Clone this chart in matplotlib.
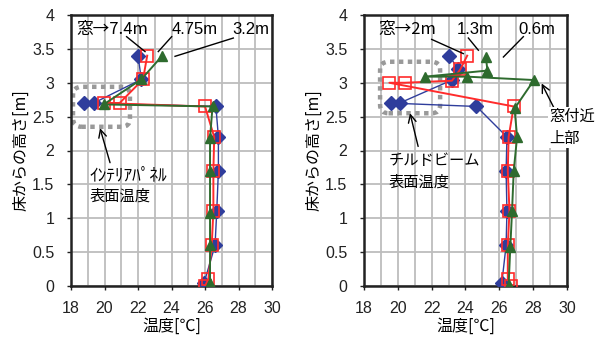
import matplotlib
matplotlib.use("Agg")
import matplotlib.pyplot as plt
from matplotlib.patches import FancyBboxPatch
import numpy as np

plt.rcParams['font.family'] = ['Liberation Sans', 'Noto Sans CJK JP', 'DejaVu Sans']
JP = ['Noto Sans CJK JP', 'DejaVu Sans']
MIX = ['Liberation Sans', 'Noto Sans CJK JP', 'DejaVu Sans']

# ---------------- data (left panel: interior panel) ----------------
L_blue_T = [22.0, 22.2, 19.35, 18.75, 26.65, 26.8, 26.8, 26.7, 26.6, 25.95]
L_blue_h = [3.4, 3.05, 2.7, 2.7, 2.65, 2.2, 1.7, 1.1, 0.6, 0.05]
L_red_T = [22.55, 22.3, 20.9, 19.95, 26.0, 26.55, 26.5, 26.5, 26.4, 26.2, 26.0]
L_red_h = [3.4, 3.05, 2.7, 2.7, 2.65, 2.2, 1.7, 1.1, 0.6, 0.1, 0.0]
L_green_T = [23.45, 22.2, 19.95, 26.45, 26.3, 26.3, 26.3, 26.3, 26.3]
L_green_h = [3.4, 3.05, 2.68, 2.65, 2.18, 1.7, 1.08, 0.6, 0.05]

# ---------------- data (right panel: chilled beam) ----------------
R_blue_T = [23.05, 23.55, 23.2, 20.1, 19.6, 24.65, 26.45, 26.4, 26.45, 26.4, 26.15]
R_blue_h = [3.4, 3.2, 3.04, 2.7, 2.7, 2.65, 2.2, 1.7, 1.1, 0.6, 0.05]
R_red_T = [24.1, 23.7, 23.2, 20.4, 19.5, 26.85, 26.55, 26.5, 26.6, 26.5, 26.5, 26.7]
R_red_h = [3.4, 3.2, 3.03, 3.0, 3.0, 2.65, 2.2, 1.7, 1.1, 0.6, 0.1, 0.0]
R_green_T = [25.2, 25.3, 21.6, 24.1, 28.05, 26.9, 27.05, 26.85, 26.75, 26.65, 26.55]
R_green_h = [3.38, 3.18, 3.09, 3.09, 3.04, 2.62, 2.2, 1.7, 1.1, 0.58, 0.02]

x_ticks = [18, 20, 22, 24, 26, 28, 30]
y_ticks = [0, 0.5, 1, 1.5, 2, 2.5, 3, 3.5, 4]
x_label = "温度[℃]"
y_label = "床からの高さ[m]"

BLUE = '#2f3d9c'
RED = '#ff2b2b'
GREEN = '#2e6b2e'

fig = plt.figure(figsize=(5.95, 3.38), dpi=100)
axL = fig.add_axes([71/595, 52/338, 201/595, 271/338])
axR = fig.add_axes([364/595, 52/338, 203/595, 271/338])


def style(ax):
    ax.set_xlim(18, 30)
    ax.set_ylim(0, 4)
    ax.set_xticks(x_ticks)
    ax.set_xticks(np.arange(18, 31, 1), minor=True)
    ax.set_yticks(y_ticks)
    ax.set_yticklabels(['0', '0.5', '1', '1.5', '2', '2.5', '3', '3.5', '4'])
    ax.grid(True, which='both', color='#bdbdbd', lw=1.3, zorder=0)
    ax.set_axisbelow(True)
    ax.tick_params(axis='both', which='major', labelsize=11.5, length=3, width=1,
                   direction='out', colors='#222222')
    ax.tick_params(axis='y', pad=9)
    ax.tick_params(axis='x', pad=8)
    ax.tick_params(axis='both', which='minor', length=0)
    for s in ax.spines.values():
        s.set_linewidth(1.8)
        s.set_color('#222222')
    ax.set_xlabel(x_label, fontsize=11.5, family=JP, labelpad=1)
    ax.set_ylabel(y_label, fontsize=11.5, family=JP, labelpad=2)


def series(ax, bT, bh, rT, rh, gT, gh):
    ax.plot(bT, bh, color=BLUE, lw=1.0, marker='D', ms=7.5, mfc=BLUE, mec=BLUE, zorder=3)
    ax.plot(rT, rh, color=RED, lw=1.4, marker='s', ms=9, mfc='none', mec=RED, mew=1.2, zorder=4)
    ax.plot(gT, gh, color=GREEN, lw=1.4, marker='^', ms=7, mfc=GREEN, mec=GREEN, zorder=5)


def dotted_box(ax, x0, x1, y0, y1, r=0.5):
    fig.canvas.draw()
    p0 = ax.transData.transform((0, 0))
    p1 = ax.transData.transform((1, 1))
    aspect = (p1[1] - p0[1]) / (p1[0] - p0[0])
    box = FancyBboxPatch((x0, y0), x1 - x0, y1 - y0,
                         boxstyle=f"round,pad=0,rounding_size={r}",
                         mutation_aspect=1/aspect,
                         fill=False, ec='#999999', lw=3.2, ls=(0, (1, 1.0)),
                         zorder=2)
    ax.add_patch(box)


def leader(ax, x0, y0, x1, y1):
    ax.plot([x0, x1], [y0, y1], color='black', lw=1.0, zorder=6)


def arrow(ax, tail, head):
    ax.annotate('', xy=head, xytext=tail,
                arrowprops=dict(arrowstyle='->', color='black', lw=1.0,
                                mutation_scale=14, shrinkA=0, shrinkB=0),
                zorder=6)


# ---------- left panel ----------
style(axL)
series(axL, L_blue_T, L_blue_h, L_red_T, L_red_h, L_green_T, L_green_h)
dotted_box(axL, 18.12, 21.52, 2.35, 2.94)
axL.text(18.3, 3.79, "窓→7.4m", fontsize=12, family=JP, va='center', ha='left', zorder=7)
axL.text(24.0, 3.79, "4.75m", fontsize=12, family=MIX, va='center', ha='left', zorder=7)
axL.text(27.65, 3.79, "3.2m", fontsize=12, family=MIX, va='center', ha='left', zorder=7,
         clip_on=False)
leader(axL, 21.32, 3.68, 22.42, 3.46)
leader(axL, 24.01, 3.68, 23.21, 3.46)
leader(axL, 27.69, 3.66, 24.21, 3.39)
axL.text(19.1, 1.64, "ｲﾝﾃﾘｱﾊﾟﾈﾙ", fontsize=12.5, family=JP, va='center', ha='left', zorder=7)
axL.text(19.1, 1.32, "表面温度", fontsize=11, family=JP, va='center', ha='left', zorder=7)
arrow(axL, (20.33, 1.82), (19.73, 2.33))

# ---------- right panel ----------
style(axR)
series(axR, R_blue_T, R_blue_h, R_red_T, R_red_h, R_green_T, R_green_h)
dotted_box(axR, 18.95, 22.5, 2.55, 3.31)
axR.text(18.85, 3.79, "窓→2m", fontsize=12, family=JP, va='center', ha='left', zorder=7)
axR.text(23.48, 3.79, "1.3m", fontsize=12, family=MIX, va='center', ha='left', zorder=7)
axR.text(27.12, 3.79, "0.6m", fontsize=12, family=MIX, va='center', ha='left', zorder=7)
leader(axR, 22.0, 3.64, 23.87, 3.43)
leader(axR, 24.17, 3.66, 24.76, 3.48)
leader(axR, 27.42, 3.68, 26.24, 3.38)
axR.text(19.44, 1.85, "チルドビーム", fontsize=11, family=JP, va='center', ha='left', zorder=7)
axR.text(19.44, 1.54, "表面温度", fontsize=11, family=JP, va='center', ha='left', zorder=7)
arrow(axR, (21.2, 2.06), (20.72, 2.55))
axR.text(28.95, 2.34, "窓付近\n上部", fontsize=11, family=JP, va='center', ha='left',
         linespacing=1.35, zorder=8, clip_on=False,
         bbox=dict(boxstyle='square,pad=0.1', fc='white', ec='none'))
arrow(axR, (29.57, 2.46), (28.5, 2.99))

fig.savefig('out.png', dpi=100)
